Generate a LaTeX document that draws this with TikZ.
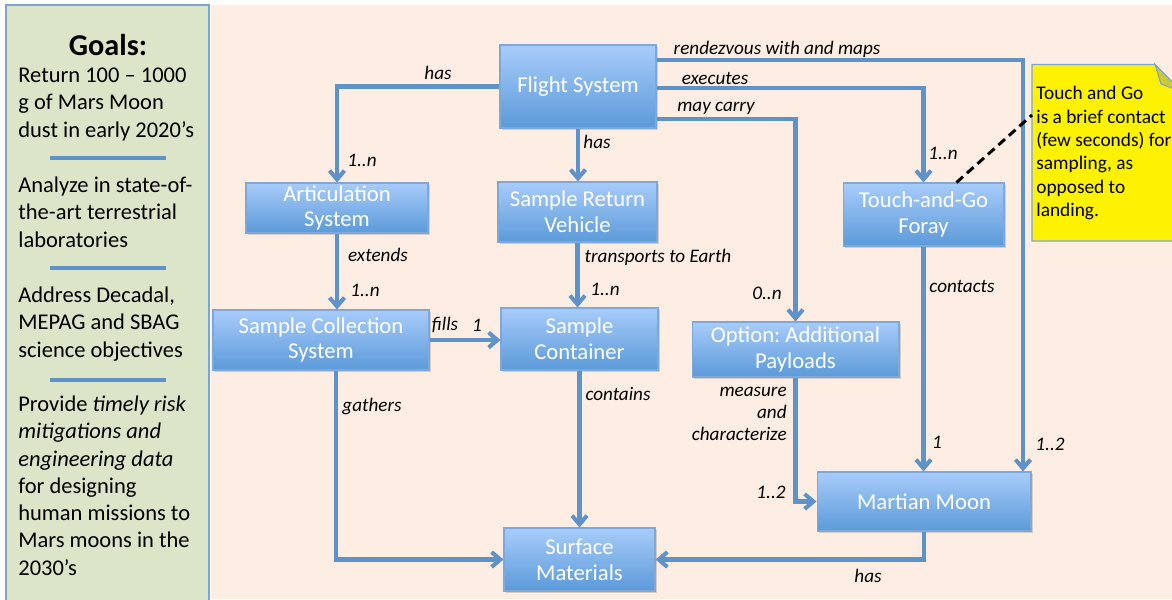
\documentclass[tikz,border=0pt]{standalone}
\usepackage{fontspec}
\setmainfont{Carlito}
\usetikzlibrary{arrows.meta,shadows}
\frenchspacing

\definecolor{peach}{HTML}{FDEDE2}
\definecolor{panelgreen}{HTML}{DDE5C9}
\definecolor{panelblue}{HTML}{7DA4D3}
\definecolor{wireblue}{HTML}{5E92CB}
\definecolor{boxtop}{HTML}{A8CCFA}
\definecolor{boxbot}{HTML}{5B9AD9}
\definecolor{boxline}{HTML}{7FA8DA}
\definecolor{notefold}{HTML}{CBCA33}

\tikzset{
  block/.style={rectangle, draw=boxline, line width=0.6pt, top color=boxtop, bottom color=boxbot,
    text=white, align=center, inner sep=0pt, font=\fontsize{12.9}{14.7}\selectfont,
    drop shadow={opacity=0.3, shadow xshift=1.2pt, shadow yshift=-1.2pt}},
  wire/.style={draw=wireblue, line width=2.3pt, -{Straight Barb[length=5pt,width=8.5pt]}},
  rel/.style={font=\fontsize{10.9}{12.5}\selectfont\itshape, inner sep=0pt},
  goal/.style={anchor=base west, align=left, inner sep=0pt, font=\fontsize{12.8}{15.5}\selectfont},
  rule/.style={draw=wireblue, line width=2.2pt},
}

\begin{document}
\begin{tikzpicture}[x=0.02cm, y=-0.02cm]
  \useasboundingbox (0,0) rectangle (1172,599);
  \clip (0,0) rectangle (1172,599);
  % backgrounds
  \fill[white] (0,0) rectangle (1172,599);
  \fill[peach] (211,5) rectangle (1172,599);
  \draw[panelblue, line width=0.6pt, fill=panelgreen] (6,5) rectangle (209,610);

  % goals panel (base = last line)
  \node[anchor=base, inner sep=0pt, font=\fontsize{17.2}{20}\selectfont\bfseries] (goals) at (108,55) {Goals:};
  \node[goal] (g1) at (18,137) {Return 100 – 1000\\g of Mars Moon\\dust in early 2020’s};
  \draw[rule] (50,158) -- (166,158);
  \node[goal] (g2) at (18,247) {Analyze in state-of-\\the-art terrestrial\\laboratories};
  \draw[rule] (50,268) -- (166,268);
  \node[goal] (g3) at (18,357) {Address Decadal,\\MEPAG and SBAG\\science objectives};
  \draw[rule] (50,380) -- (166,380);
  \node[goal] (g4) at (18,575) {Provide \textit{timely risk}\\\textit{mitigations and}\\\textit{engineering data}\\for designing\\human missions to\\Mars moons in the\\2030’s};

  % note
  \draw[panelblue, line width=0.6pt, fill=yellow] (1032,64.5) -- (1155,64.5) -- (1182,92) -- (1182,241) -- (1032,241) -- cycle;
  \draw[panelblue, line width=0.6pt, fill=notefold] (1155,64.5) -- (1161,84) -- (1182,92) -- cycle;
  \node[anchor=west, align=left, inner sep=0pt, font=\fontsize{11}{13.3}\selectfont] (note) at (1036,153)
    {Touch and Go\\is a brief contact\\(few seconds) for\\sampling, as\\opposed to\\landing.};
  \coordinate (notein) at (1032,115);

  % blocks
  \node[block, minimum width=3.12cm, minimum height=1.66cm] (fs) at (578,86.5) {Flight System};
  \node[block, minimum width=3.64cm, minimum height=1.0cm] (art) at (337,208) {Articulation\\System};
  \node[block, minimum width=3.18cm, minimum height=1.2cm] (srv) at (577.5,212) {Sample Return\\Vehicle};
  \node[block, minimum width=3.22cm, minimum height=1.26cm] (tag) at (923.5,214.5) {Touch-and-Go\\Foray};
  \node[block, minimum width=4.32cm, minimum height=1.2cm] (scs) at (321,340) {Sample Collection\\System};
  \node[block, minimum width=3.14cm, minimum height=1.24cm] (cont) at (579.5,339) {Sample\\Container};
  \node[block, minimum width=4.14cm, minimum height=1.1cm] (opt) at (795.5,349.5) {Option: Additional\\Payloads};
  \node[block, minimum width=4.28cm, minimum height=1.18cm] (moon) at (924,501.5) {Martian Moon};
  \node[block, minimum width=3.02cm, minimum height=1.26cm] (surf) at (579.5,559.5) {Surface\\Materials};

  % connectors
  \draw[wire] (fs.west) -| (art.north);
  \draw[wire] (fs.south) -- (fs.south |- srv.north);
  \draw[wire] ([yshift=0.53cm]fs.east) -| ([xshift=1.98cm]moon.north);
  \draw[wire] ([yshift=-0.03cm]fs.east) -| (tag.north);
  \draw[wire] ([yshift=-0.65cm]fs.east) -| (opt.north);
  \draw[wire] (art.south) -- (art.south |- scs.north);
  \draw[wire] (srv.south) -- (srv.south |- cont.north);
  \draw[wire] (scs.east) -- (scs.east -| cont.west);
  \draw[wire] ([xshift=0.3cm]scs.south) |- (surf.west);
  \draw[wire] (cont.south) -- (cont.south |- surf.north);
  \draw[wire] (opt.south) |- (moon.west);
  \draw[wire] (tag.south) -- (tag.south |- moon.north);
  \draw[wire] (moon.south) |- (surf.east);
  \draw[black, line width=1.7pt, dash pattern=on 5pt off 3pt] ([xshift=0.66cm]tag.north) -- (notein);

  % connector labels
  \node[rel] (l1) at (438,73) {has};
  \node[rel] (l2) at (362,160) {1..n};
  \node[rel] (l3) at (597,142) {has};
  \node[rel] (l4) at (777,49) {rendezvous with and maps};
  \node[rel] (l5) at (715,79) {executes};
  \node[rel] (l6) at (716,108) {may carry};
  \node[rel] (l7) at (943,153) {1..n};
  \node[rel] (l8) at (378,255) {extends};
  \node[rel] (l9) at (365,290) {1..n};
  \node[rel] (l10) at (658,257) {transports to Earth};
  \node[rel] (l11) at (605,289) {1..n};
  \node[rel] (l12) at (445,325) {fills};
  \node[rel] (l13) at (477,325) {1};
  \node[rel] (l14) at (372,406) {gathers};
  \node[rel] (l15) at (618,394) {contains};
  \node[rel] (l16) at (767,293) {0..n};
  \node[rel] (l17) at (962,287) {contacts};
  \node[rel, anchor=east, align=right] (l18) at (787,414) {measure\\and\\characterize};
  \node[rel] (l19) at (771,492) {1..2};
  \node[rel] (l20) at (937,442) {1};
  \node[rel] (l21) at (1050,444) {1..2};
  \node[rel] (l22) at (868,576) {has};
\end{tikzpicture}
\end{document}
